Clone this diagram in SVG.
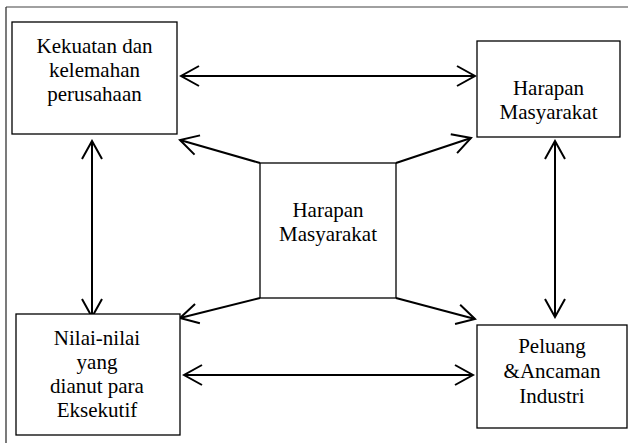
<svg xmlns="http://www.w3.org/2000/svg" width="628" height="443" viewBox="0 0 628 443">
<style>
.box{fill:#fff;stroke:#000;stroke-width:1.3}
.lbl{font-family:"Liberation Serif","Times New Roman",serif;font-size:21px;fill:#000;text-anchor:middle}
.con{fill:none;stroke:#000;stroke-width:2}
.arr{fill:none;stroke:#000;stroke-width:2;stroke-linejoin:miter}
</style>
<defs>
<marker id="ah" markerUnits="userSpaceOnUse" viewBox="-20 -12 22 24" refX="0" refY="0" markerWidth="22" markerHeight="24" orient="auto-start-reverse">
<path class="arr" d="M-18,-10 L0,0 L-18,10"/>
</marker>
</defs>
<rect width="628" height="443" fill="#fff"/>
<g id="frame">
<line x1="6" y1="7" x2="628" y2="7" stroke="#808080" stroke-width="1.5"/>
<line x1="6" y1="7" x2="6" y2="443" stroke="#333" stroke-width="1.3"/>
</g>
<g id="connectors">
<line class="con" x1="181" y1="76" x2="475" y2="76" marker-start="url(#ah)" marker-end="url(#ah)"/>
<line class="con" x1="184" y1="375" x2="473" y2="375" marker-start="url(#ah)" marker-end="url(#ah)"/>
<line class="con" x1="92" y1="141" x2="92" y2="317" marker-start="url(#ah)" marker-end="url(#ah)"/>
<line class="con" x1="555" y1="141" x2="555" y2="317" marker-start="url(#ah)" marker-end="url(#ah)"/>
<line class="con" x1="260" y1="163" x2="180" y2="140" marker-end="url(#ah)"/>
<line class="con" x1="396" y1="163" x2="471" y2="138" marker-end="url(#ah)"/>
<line class="con" x1="260" y1="298" x2="180" y2="318" marker-end="url(#ah)"/>
<line class="con" x1="396" y1="298" x2="475" y2="319" marker-end="url(#ah)"/>
</g>
<g id="kekuatan">
<rect class="box" x="12" y="22" width="165" height="112"/>
<text class="lbl" x="94.5" y="53">Kekuatan dan</text>
<text class="lbl" x="94.5" y="77">kelemahan</text>
<text class="lbl" x="94.5" y="101">perusahaan</text>
</g>
<g id="harapan-kanan">
<rect class="box" x="477" y="41" width="143" height="96"/>
<text class="lbl" x="548.5" y="95">Harapan</text>
<text class="lbl" x="548.5" y="118.5">Masyarakat</text>
</g>
<g id="harapan-tengah">
<rect class="box" x="260" y="163" width="136" height="135"/>
<text class="lbl" x="328" y="216.5">Harapan</text>
<text class="lbl" x="328" y="240.5">Masyarakat</text>
</g>
<g id="nilai">
<rect class="box" x="16" y="314" width="164" height="121"/>
<text class="lbl" x="97" y="345">Nilai-nilai</text>
<text class="lbl" x="97" y="369">yang</text>
<text class="lbl" x="97" y="393">dianut para</text>
<text class="lbl" x="97" y="417">Eksekutif</text>
</g>
<g id="peluang">
<rect class="box" x="477" y="325" width="150" height="103"/>
<text class="lbl" x="552" y="353">Peluang</text>
<text class="lbl" x="552" y="378">&amp;Ancaman</text>
<text class="lbl" x="552" y="402.5">Industri</text>
</g>
</svg>
